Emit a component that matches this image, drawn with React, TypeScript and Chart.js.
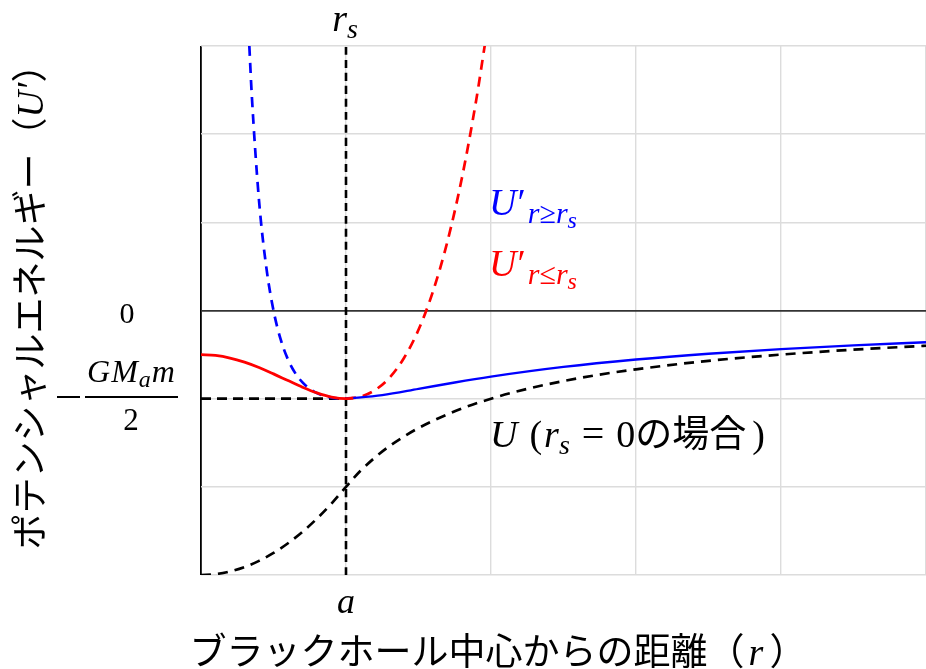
import React, { useEffect, useRef } from "react";
import { Chart, registerables } from "chart.js";
Chart.register(...registerables);

// r in units of a; energy in units of GM_a m / 2
const uR = [0, 0.1, 0.2, 0.3, 0.4, 0.5, 0.6, 0.7, 0.8, 0.9, 1.0, 1.1, 1.2, 1.3, 1.4, 1.5, 1.75, 2.0, 2.25, 2.5, 2.75, 3.0, 3.5, 4.0, 4.5, 5.0];
const uV = [-3, -2.99, -2.96, -2.91, -2.84, -2.75, -2.64, -2.51, -2.36, -2.19, -2.0, -1.818, -1.667, -1.538, -1.429, -1.333, -1.143, -1.0, -0.889, -0.8, -0.727, -0.667, -0.571, -0.5, -0.444, -0.4];

const blueR = [1.0, 1.25, 1.5, 1.75, 2.0, 2.5, 3.0, 3.5, 4.0, 4.5, 5.0];
const blueV = [-1.0, -0.96, -0.889, -0.816, -0.75, -0.64, -0.556, -0.49, -0.4375, -0.395, -0.36];

const blueDashR = [0.3333, 0.35, 0.4, 0.45, 0.5, 0.55, 0.6, 0.65, 0.7, 0.75, 0.8, 0.85, 0.9, 0.95, 1.0];
const blueDashV = [3.0, 2.449, 1.25, 0.494, 0.0, -0.331, -0.556, -0.71, -0.816, -0.889, -0.9375, -0.969, -0.988, -0.997, -1.0];

const redR = [0, 0.1, 0.2, 0.3, 0.4, 0.5, 0.6, 0.7, 0.8, 0.9, 1.0, 1.05];
const redV = [-0.5, -0.51, -0.539, -0.586, -0.647, -0.719, -0.795, -0.87, -0.935, -0.982, -1.0, -0.995];

const redDashR = [1.0, 1.1, 1.2, 1.3, 1.4, 1.5, 1.6, 1.7, 1.8, 1.9, 1.96];
const redDashV = [-1.0, -0.978, -0.903, -0.762, -0.539, -0.219, 0.217, 0.786, 1.509, 2.406, 3.04];

const rsLineR = [1, 1];
const rsLineV = [-3, 3];
const halfLineR = [0, 1];
const halfLineV = [-1, -1];

const xTicks = [0, 1, 2, 3, 4, 5];
const yTicks = [-3, -2, -1, 0, 1, 2, 3];

const JP = '"Noto Sans CJK JP", sans-serif';
const SERIF = '"Liberation Serif", serif';
const MI = (s: number) => `italic ${s}px ${SERIF}`;
const MR = (s: number) => `${s}px ${SERIF}`;
const JF = (s: number) => `${s}px ${JP}`;

type Run = { t: string; f: string; dy?: number; dx?: number };

function drawRuns(ctx: CanvasRenderingContext2D, runs: Run[], x: number, y: number, color: string, align: "left" | "center" = "left") {
  ctx.save();
  ctx.fillStyle = color;
  ctx.textBaseline = "alphabetic";
  ctx.textAlign = "left";
  let total = 0;
  const widths = runs.map((r) => {
    ctx.font = r.f;
    const w = ctx.measureText(r.t).width + (r.dx || 0);
    total += w;
    return w;
  });
  let cx = align === "center" ? x - total / 2 : x;
  runs.forEach((r, i) => {
    ctx.font = r.f;
    ctx.fillText(r.t, cx + (r.dx || 0), y + (r.dy || 0));
    cx += widths[i];
  });
  ctx.restore();
}

const pts = (xs: number[], ys: number[]) => xs.map((x, i) => ({ x, y: ys[i] }));

const textPlugin = {
  id: "texts",
  afterDraw(chart: any) {
    const ctx: CanvasRenderingContext2D = chart.ctx;
    // y axis title
    ctx.save();
    ctx.translate(30, 298);
    ctx.rotate(-Math.PI / 2);
    drawRuns(ctx, [
      { t: "ポテンシャルエネルギー（", f: JF(36) },
      { t: "U′", f: MI(37) },
      { t: "）", f: JF(36) },
    ], 0, 13, "#000", "center");
    ctx.restore();
    // x axis title
    drawRuns(ctx, [
      { t: "ブラックホール中心からの距離（", f: JF(37) },
      { t: "r", f: MI(38), dx: 4 },
      { t: "）", f: JF(37), dx: 6 },
    ], 498, 665, "#000", "center");
    // r_s at top
    drawRuns(ctx, [
      { t: "r", f: MI(38) },
      { t: "s", f: MI(28), dy: 7 },
    ], 345, 31, "#000", "center");
    // a at bottom
    drawRuns(ctx, [{ t: "a", f: MI(36) }], 346, 613, "#000", "center");
    // 0 tick
    drawRuns(ctx, [{ t: "0", f: MR(30) }], 127, 323, "#000", "center");
    // -GM_a m / 2
    drawRuns(ctx, [
      { t: "G", f: MI(32) },
      { t: "M", f: MI(32), dx: 1 },
      { t: "a", f: MI(24), dy: 5, dx: 1 },
      { t: "m", f: MI(32), dx: 1 },
    ], 131, 382, "#000", "center");
    drawRuns(ctx, [{ t: "2", f: MR(31) }], 131, 430, "#000", "center");
    ctx.save();
    ctx.fillStyle = "#000";
    ctx.fillRect(85, 396, 93, 2);
    ctx.fillRect(57, 396, 23, 2);
    ctx.restore();
    // blue label
    drawRuns(ctx, [
      { t: "U", f: MI(38) },
      { t: "′", f: MR(38), dx: 1 },
      { t: "r≥r", f: MI(30), dy: 8, dx: 2 },
      { t: "s", f: MI(24), dy: 13 },
    ], 489, 215, "#0000ff");
    // red label
    drawRuns(ctx, [
      { t: "U", f: MI(38) },
      { t: "′", f: MR(38), dx: 1 },
      { t: "r≤r", f: MI(30), dy: 8, dx: 2 },
      { t: "s", f: MI(24), dy: 13 },
    ], 489, 276, "#ff0000");
    // U (r_s = 0の場合)
    drawRuns(ctx, [
      { t: "U", f: MI(38) },
      { t: "(", f: MR(38), dx: 12 },
      { t: "r", f: MI(38), dx: 2 },
      { t: "s", f: MI(28), dy: 7 },
      { t: "=", f: MR(40), dx: 12 },
      { t: "0", f: MR(38), dx: 12 },
      { t: "の場合", f: JF(37) },
      { t: ")", f: MR(38), dx: 6 },
    ], 490, 447, "#000");
  },
};

export default function App() {
  const ref = useRef<HTMLCanvasElement>(null);
  useEffect(() => {
    document.body.style.margin = "0";
    const canvas = ref.current!;
    const common = { pointRadius: 0, fill: false, cubicInterpolationMode: "monotone" as const };
    const chart = new Chart(canvas, {
      type: "line",
      data: {
        datasets: [
          { ...common, data: pts(redR, redV), borderColor: "#ff0000", borderWidth: 2.8, order: 1 },
          { ...common, data: pts(blueR, blueV), borderColor: "#0000ff", borderWidth: 2.4, order: 2 },
          { ...common, data: pts(blueDashR, blueDashV), borderColor: "#0000ff", borderWidth: 2.7, borderDash: [10, 7], order: 3 },
          { ...common, data: pts(redDashR, redDashV), borderColor: "#ff0000", borderWidth: 2.7, borderDash: [10, 7], order: 4 },
          { ...common, data: pts(uR, uV), borderColor: "#000000", borderWidth: 2.7, borderDash: [10, 7], order: 5 },
          { ...common, data: pts(rsLineR, rsLineV), borderColor: "#000000", borderWidth: 2.6, borderDash: [8, 5], order: 6 },
          { ...common, data: pts(halfLineR, halfLineV), borderColor: "#000000", borderWidth: 2.7, borderDash: [10, 6], order: 7 },
        ],
      },
      options: {
        animation: false,
        responsive: false,
        events: [],
        layout: { padding: { left: 201, right: 0, top: 46, bottom: 94 } },
        plugins: { legend: { display: false }, tooltip: { enabled: false } },
        scales: {
          x: {
            type: "linear",
            min: xTicks[0],
            max: xTicks[xTicks.length - 1],
            afterBuildTicks: (s: any) => { s.ticks = xTicks.map((v) => ({ value: v })); },
            afterFit: (s: any) => { s.height = 0; },
            ticks: { display: false },
            border: { display: false },
            grid: {
              drawTicks: false,
              color: (c: any) => (c.tick && c.tick.value === 0 ? "#000000" : "#dcdcdc"),
              lineWidth: (c: any) => (c.tick && c.tick.value === 0 ? 1.8 : 1.4),
            },
          },
          y: {
            type: "linear",
            min: yTicks[0],
            max: yTicks[yTicks.length - 1],
            afterBuildTicks: (s: any) => { s.ticks = yTicks.map((v) => ({ value: v })); },
            afterFit: (s: any) => { s.width = 0; },
            ticks: { display: false },
            border: { display: false },
            grid: {
              drawTicks: false,
              color: (c: any) => (c.tick && c.tick.value === 0 ? "#333333" : "#dcdcdc"),
              lineWidth: (c: any) => (c.tick && c.tick.value === 0 ? 1.8 : 1.4),
            },
          },
        },
      },
      plugins: [textPlugin],
    });
    return () => chart.destroy();
  }, []);
  return (
    <div style={{ position: "absolute", left: 0, top: 0, width: 926, height: 669, background: "#fff" }}>
      <canvas ref={ref} width={926} height={669} style={{ width: 926, height: 669, display: "block" }} />
    </div>
  );
}
